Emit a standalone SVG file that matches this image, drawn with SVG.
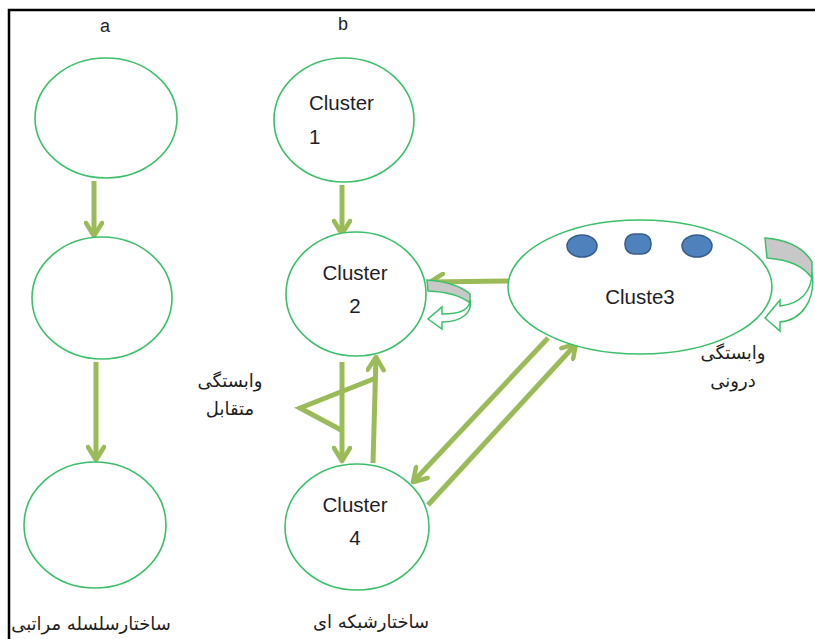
<svg xmlns="http://www.w3.org/2000/svg" width="815" height="639" viewBox="0 0 815 639">
<defs>
<style>
.node{fill:#ffffff;stroke:#3cbf6a;stroke-width:1.6}
.conn{stroke:#9bbb59;stroke-width:5;fill:none;marker-end:url(#ah)}
.tri{stroke:#9bbb59;stroke-width:5;fill:none;stroke-linejoin:miter}
.lbl{font-family:"Liberation Sans",Arial,sans-serif;font-size:20.5px;fill:#1e1e2a}
.fa{font-family:"DejaVu Sans","Noto Sans",sans-serif;font-size:18px;fill:#1e1e1e}
.dot{fill:#4f81bd;stroke:#385d8a;stroke-width:1.5}
.band{fill:#c8c8c8;stroke:#3cbf6a;stroke-width:1.5}
.warrow{fill:#ffffff;stroke:#3cbf6a;stroke-width:1.5}
</style>
<marker id="ah" viewBox="0 0 20 20" refX="16" refY="10" markerWidth="20" markerHeight="20" markerUnits="userSpaceOnUse" orient="auto">
<path d="M3,2 L16,10 L3,18" fill="none" stroke="#9bbb59" stroke-width="4.5" stroke-linecap="round" stroke-linejoin="round"/>
</marker>
</defs>
<rect width="815" height="639" fill="#ffffff"/>
<path d="M9,639 L9,10 L815,10" fill="none" stroke="#000" stroke-width="2.5"/>
<text class="lbl" x="105" y="32" text-anchor="middle" style="font-size:18px">a</text>
<text class="lbl" x="343" y="30" text-anchor="middle" style="font-size:18px">b</text>

<g id="connectors">
<line class="conn" x1="94" y1="181" x2="94" y2="236"/>
<line class="conn" x1="96" y1="362" x2="96" y2="460"/>
<line class="conn" x1="342" y1="185" x2="342" y2="234"/>
<line class="conn" x1="508" y1="281" x2="430" y2="282"/>
<line class="conn" x1="342" y1="362" x2="342" y2="461"/>
<line class="conn" x1="373" y1="463" x2="376" y2="357"/>
<polyline class="tri" points="376,378 300,408 341,430"/>
<line class="conn" x1="548" y1="338" x2="413" y2="482"/>
<line class="conn" x1="428" y1="505" x2="576" y2="344"/>
</g>

<g id="a1"><ellipse class="node" cx="106" cy="118" rx="71" ry="60"/></g>
<g id="a2"><ellipse class="node" cx="102" cy="298" rx="70" ry="61"/></g>
<g id="a3"><ellipse class="node" cx="95" cy="525" rx="71" ry="63"/></g>

<g id="cluster1">
<ellipse class="node" cx="344" cy="120" rx="70" ry="62"/>
<text class="lbl" x="309" y="110">Cluster</text>
<text class="lbl" x="309" y="144">1</text>
</g>
<g id="cluster2">
<ellipse class="node" cx="356" cy="294" rx="70" ry="62"/>
<text class="lbl" x="355" y="280" text-anchor="middle">Cluster</text>
<text class="lbl" x="355" y="313" text-anchor="middle">2</text>
<path class="band" d="M427,280 Q456,282 470,294 L470,303 Q456,292 428,291 Z"/>
<path class="warrow" d="M470,300 C470,310 458,314 442,314 L442,307 L428,319 L442,329 L442,322 C462,322 473,312 470,300 Z"/>
</g>
<g id="cluster4">
<ellipse class="node" cx="357" cy="527" rx="72" ry="63"/>
<text class="lbl" x="355" y="512" text-anchor="middle">Cluster</text>
<text class="lbl" x="355" y="545" text-anchor="middle">4</text>
</g>
<g id="cluster3">
<ellipse class="node" cx="640" cy="287" rx="132" ry="67"/>
<ellipse class="dot" cx="582" cy="246" rx="15" ry="11"/>
<rect class="dot" x="625" y="234" width="26" height="20" rx="9" ry="9"/>
<ellipse class="dot" cx="697" cy="246" rx="15" ry="11"/>
<text class="lbl" x="640" y="304" text-anchor="middle">Cluste3</text>
<path class="band" d="M765,238 C790,240 805,250 812,262 L812,278 C803,266 790,260 767,258 Z"/>
<path class="warrow" d="M812,272 C812,292 800,304 780,306 L780,300 L765,318 L780,331 L780,322 C802,320 816,300 812,272 Z"/>
</g>

<g id="labels">
<text class="fa" x="230" y="387" text-anchor="middle">وابستگی</text>
<text class="fa" x="230" y="415" text-anchor="middle">متقابل</text>
<text class="fa" x="733" y="359" text-anchor="middle">وابستگی</text>
<text class="fa" x="733" y="387" text-anchor="middle">درونی</text>
<text class="fa" x="91" y="630" text-anchor="middle">ساختارسلسله مراتبی</text>
<text class="fa" x="371" y="628" text-anchor="middle">ساختارشبکه ای</text>
</g>
</svg>
